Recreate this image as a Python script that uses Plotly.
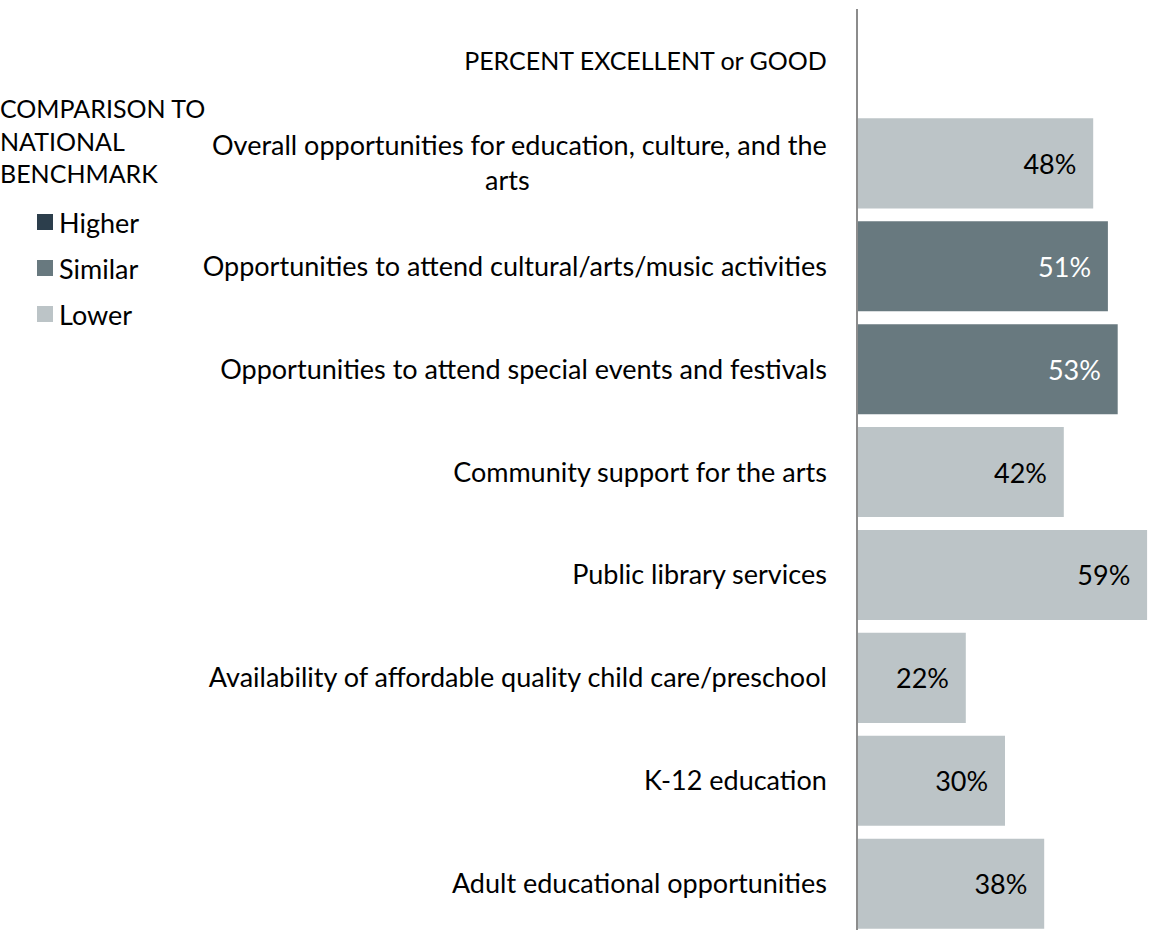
import plotly.graph_objects as go

# ---- data -------------------------------------------------------------
header = "PERCENT EXCELLENT or GOOD"
categories = [
    "Overall opportunities for education, culture, and the<br>arts",
    "Opportunities to attend cultural/arts/music activities",
    "Opportunities to attend special events and festivals",
    "Community support for the arts",
    "Public library services",
    "Availability of affordable quality child care/preschool",
    "K-12 education",
    "Adult educational opportunities",
]
values = [48, 51, 53, 42, 59, 22, 30, 38]
ratings = ["Lower", "Similar", "Similar", "Lower", "Lower", "Lower", "Lower", "Lower"]
legend_levels = ["Higher", "Similar", "Lower"]

# ---- styling ----------------------------------------------------------
FONT = "Lato"
SIZE = 27
CAPS_SIZE = 25
palette = {"Higher": "#2c3e4c", "Similar": "#68797f", "Lower": "#bcc4c7"}
text_colors = {"Higher": "#ffffff", "Similar": "#ffffff", "Lower": "#000000"}
NBSP = "\u00a0"

W, H = 1152, 930
L, T = 858, 9
PW, PH = W - L, H - T


def px_x(x):
    """pixel column -> paper x"""
    return (x - L) / PW


def px_y(y):
    """pixel row (from top) -> paper y"""
    return (H - y) / PH


# centre the wrapped second line under the first one
def wrap_label(label, pad=43):
    if "<br>" in label:
        first, second = label.split("<br>")
        return first + "<br>" + second + NBSP * pad
    return label


header_label = f"<span style='font-size:{CAPS_SIZE}px'>{header}</span>"
y_labels = [header_label] + [wrap_label(c) for c in categories]
x_vals = [None] + values
bar_colors = ["rgba(0,0,0,0)"] + [palette[r] for r in ratings]
bar_text = [""] + [f"{v}%" + NBSP * 2 for v in values]
bar_text_colors = ["#000000"] + [text_colors[r] for r in ratings]

fig = go.Figure()
fig.add_trace(go.Bar(
    x=x_vals,
    y=y_labels,
    orientation="h",
    marker=dict(color=bar_colors, line=dict(width=0)),
    text=bar_text,
    textposition="inside",
    insidetextanchor="end",
    textfont=dict(family=FONT, size=SIZE, color=bar_text_colors),
    constraintext="none",
    showlegend=False,
    hoverinfo="skip",
))

fig.update_layout(
    width=W,
    height=H,
    margin=dict(l=L, r=0, t=T, b=0),
    paper_bgcolor="white",
    plot_bgcolor="white",
    bargap=0.125,
    font=dict(family=FONT, size=SIZE, color="#000000"),
)
fig.update_xaxes(
    range=[0, 60],
    showgrid=False,
    zeroline=False,
    showticklabels=False,
    showline=False,
)
fig.update_yaxes(
    type="category",
    categoryorder="array",
    categoryarray=y_labels,
    range=[8.45, -0.5],
    showgrid=False,
    zeroline=False,
    showline=True,
    linecolor="#8c8c8c",
    linewidth=1.5,
    ticks="",
    ticklabelstandoff=24,
    tickfont=dict(family=FONT, size=SIZE, color="#000000"),
)

# ---- comparison legend (title + swatches) -----------------------------
fig.add_annotation(
    x=px_x(-2), y=px_y(141), xref="paper", yref="paper",
    xanchor="left", yanchor="middle",
    text="COMPARISON TO<br>NATIONAL<br>BENCHMARK",
    showarrow=False, align="left",
    font=dict(family=FONT, size=CAPS_SIZE, color="#000000"),
)
legend_y = [222, 268, 314]
for level, ypx in zip(legend_levels, legend_y):
    fig.add_shape(
        type="rect", xref="paper", yref="paper",
        x0=px_x(37), x1=px_x(53),
        y0=px_y(ypx + 8), y1=px_y(ypx - 8),
        fillcolor=palette[level], line=dict(width=0),
    )
    fig.add_annotation(
        x=px_x(57), y=px_y(ypx), xref="paper", yref="paper",
        xanchor="left", yanchor="middle", text=level, showarrow=False,
        font=dict(family=FONT, size=SIZE, color="#000000"),
    )

fig.write_html("out.html")
